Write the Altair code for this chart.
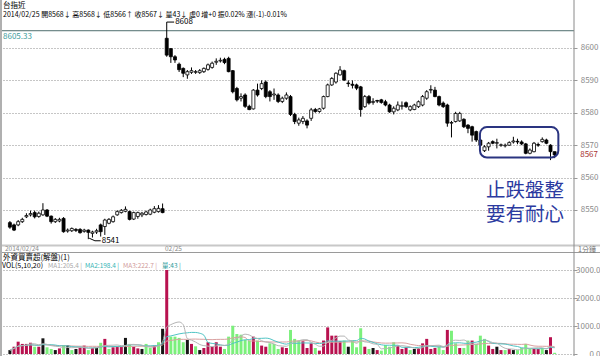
import altair as alt
import pandas as pd

# ---------------- data ----------------
opens = [8546.1, 8545.4, 8545.4, 8546.4, 8547.9, 8548.5, 8549.2, 8548.0, 8548.5, 8550.0,
         8548.1, 8546.4, 8546.6, 8547.4, 8543.5, 8543.6, 8544.0, 8544.0, 8543.4, 8543.8,
         8542.8, 8543.2, 8545.4, 8544.9, 8545.9, 8546.4, 8548.5, 8549.2, 8549.6, 8549.5,
         8547.2, 8548.0, 8548.5, 8548.6, 8548.7, 8549.3, 8549.5, 8550.4,
         8603.0, 8599.8, 8597.3, 8595.0, 8593.7, 8591.7, 8592.5, 8592.5, 8592.4, 8592.7,
         8593.4, 8594.0, 8595.6, 8596.0, 8596.5, 8596.8, 8593.0, 8587.5, 8584.5, 8585.5,
         8582.0, 8581.2, 8587.0, 8587.5, 8589.5, 8586.5, 8585.5, 8585.5, 8583.5, 8584.5,
         8585.0, 8579.5, 8576.8, 8577.3, 8577.5, 8578.3, 8581.0, 8580.4, 8581.4, 8585.0,
         8588.6, 8589.5, 8591.7, 8593.0, 8589.2, 8588.8, 8588.6, 8588.0, 8581.9, 8585.0,
         8583.2, 8583.8, 8584.0, 8583.4, 8582.4, 8580.3, 8580.9, 8582.0, 8583.1, 8580.9,
         8581.0, 8581.9, 8582.4, 8584.5, 8587.0, 8587.0, 8585.0, 8583.0, 8582.4, 8576.8,
         8577.3, 8577.5, 8578.0, 8576.2, 8575.7, 8574.2, 8571.6, 8568.3, 8569.5, 8571.1,
         8570.6, 8570.0, 8569.8, 8570.0, 8571.0, 8571.2, 8571.0, 8570.4, 8567.5, 8568.0,
         8570.2, 8571.1, 8571.6, 8570.0, 8568.0]
highs = [8546.6, 8545.8, 8546.9, 8547.6, 8549.0, 8549.8, 8549.8, 8549.5, 8552.1, 8550.3,
         8548.3, 8547.5, 8547.6, 8547.8, 8544.3, 8544.6, 8544.4, 8544.4, 8544.2, 8544.0,
         8543.6, 8544.2, 8545.8, 8547.3, 8547.5, 8548.3, 8549.9, 8550.3, 8551.1, 8549.8,
         8549.5, 8549.5, 8549.4, 8549.8, 8550.4, 8551.2, 8551.5, 8552.0,
         8608.0, 8600.0, 8597.8, 8595.5, 8594.0, 8593.2, 8594.0, 8593.2, 8593.5, 8594.0,
         8595.2, 8595.8, 8596.8, 8597.0, 8597.0, 8597.3, 8593.2, 8588.0, 8586.0, 8586.0,
         8582.5, 8587.3, 8589.0, 8590.0, 8590.0, 8587.0, 8587.5, 8586.0, 8585.0, 8586.3,
         8585.5, 8580.0, 8578.5, 8579.0, 8578.0, 8581.5, 8581.5, 8581.5, 8585.3, 8589.0,
         8591.0, 8592.5, 8594.4, 8593.3, 8590.0, 8590.0, 8589.0, 8588.3, 8585.5, 8585.5,
         8584.5, 8584.0, 8584.3, 8584.0, 8582.8, 8582.0, 8583.5, 8583.5, 8583.5, 8582.3,
         8582.8, 8583.8, 8585.5, 8587.0, 8588.5, 8588.0, 8585.3, 8583.5, 8582.8, 8577.5,
         8580.3, 8580.3, 8578.3, 8576.5, 8576.0, 8574.5, 8572.0, 8570.0, 8571.0, 8571.5,
         8572.0, 8570.5, 8570.5, 8571.2, 8572.6, 8572.0, 8571.5, 8570.7, 8569.0, 8571.0,
         8570.8, 8572.4, 8572.0, 8570.3, 8568.0]
lows = [8544.2, 8543.5, 8545.0, 8546.0, 8547.5, 8548.0, 8547.4, 8547.6, 8548.2, 8547.8,
        8545.8, 8546.0, 8546.2, 8543.0, 8543.0, 8543.2, 8543.2, 8542.7, 8543.0, 8541.0,
        8541.5, 8542.6, 8541.8, 8542.3, 8545.6, 8546.1, 8548.2, 8548.9, 8549.3, 8546.8,
        8546.9, 8547.3, 8547.8, 8548.3, 8548.4, 8549.0, 8549.2, 8549.0,
        8597.3, 8595.4, 8595.4, 8592.6, 8591.0, 8590.5, 8592.0, 8592.0, 8592.0, 8592.3,
        8593.0, 8593.6, 8594.8, 8595.5, 8595.0, 8592.5, 8586.0, 8583.5, 8583.5, 8581.5,
        8580.8, 8581.0, 8585.0, 8587.0, 8584.5, 8583.5, 8584.0, 8583.0, 8583.0, 8584.0,
        8579.0, 8576.5, 8576.0, 8576.5, 8575.2, 8577.5, 8580.0, 8580.0, 8581.0, 8584.8,
        8588.3, 8589.0, 8591.5, 8589.8, 8588.0, 8587.5, 8587.0, 8578.8, 8581.5, 8582.5,
        8582.5, 8583.0, 8582.8, 8582.0, 8580.0, 8579.5, 8580.5, 8581.0, 8581.5, 8580.5,
        8580.8, 8581.5, 8582.0, 8584.0, 8586.0, 8584.8, 8582.0, 8581.5, 8575.7, 8572.4,
        8577.0, 8577.2, 8575.3, 8573.7, 8571.1, 8571.0, 8569.5, 8567.9, 8568.3, 8570.3,
        8569.0, 8569.5, 8569.3, 8569.8, 8570.5, 8570.3, 8570.0, 8567.2, 8567.2, 8567.8,
        8569.5, 8570.8, 8570.3, 8565.4, 8566.0]
closes = [8544.7, 8543.8, 8546.4, 8547.1, 8548.3, 8548.9, 8547.9, 8549.0, 8550.0, 8548.1,
          8546.4, 8547.1, 8547.1, 8543.3, 8543.8, 8544.3, 8543.7, 8543.0, 8543.8, 8543.1,
          8543.2, 8543.6, 8543.3, 8546.9, 8547.1, 8547.9, 8549.5, 8549.9, 8550.2, 8547.1,
          8549.2, 8549.2, 8549.0, 8549.4, 8550.0, 8550.4, 8550.5, 8549.2,
          8597.8, 8597.3, 8596.3, 8593.3, 8592.2, 8592.7, 8593.0, 8592.7, 8593.0, 8593.7,
          8594.8, 8595.3, 8595.9, 8596.2, 8595.5, 8592.7, 8586.5, 8584.0, 8585.0, 8582.0,
          8581.0, 8587.0, 8585.5, 8589.0, 8585.0, 8585.0, 8585.8, 8583.5, 8584.5, 8585.5,
          8579.5, 8577.3, 8577.8, 8578.3, 8576.2, 8580.9, 8580.4, 8581.2, 8585.0, 8588.6,
          8590.6, 8592.2, 8593.2, 8590.1, 8589.0, 8588.5, 8587.6, 8581.0, 8585.0, 8583.0,
          8583.5, 8583.6, 8583.2, 8582.4, 8580.3, 8581.4, 8582.4, 8582.2, 8581.9, 8581.9,
          8582.4, 8583.4, 8585.0, 8586.5, 8587.2, 8585.0, 8582.4, 8581.9, 8576.8, 8577.0,
          8579.8, 8579.8, 8575.7, 8575.2, 8573.1, 8571.6, 8570.0, 8569.5, 8570.6, 8570.6,
          8570.8, 8570.1, 8570.0, 8570.8, 8571.3, 8571.0, 8570.4, 8567.5, 8568.5, 8570.6,
          8570.0, 8571.8, 8570.6, 8568.0, 8567.0]
volumes = [140, 260, 440, 360, 360, 400, 260, 260, 560, 240,
           180, 140, 200, 320, 320, 140, 180, 240, 300, 140,
           215, 215, 400, 540, 180, 240, 260, 260, 575, 360,
           260, 200, 180, 360, 215, 300, 420, 900, 3000, 620,
           620, 575, 420, 500, 360, 275, 140, 215, 420, 260,
           420, 260, 180, 620, 1010, 715, 690, 500, 480, 620,
           480, 300, 260, 380, 360, 180, 240, 215, 860, 540,
           480, 455, 215, 380, 215, 120, 480, 950, 655, 655,
           455, 480, 260, 480, 240, 920, 260, 180, 215, 140,
           120, 320, 260, 420, 300, 180, 240, 140, 180, 215,
           380, 540, 180, 215, 260, 140, 860, 830, 380, 215,
           215, 480, 480, 360, 655, 540, 300, 180, 260, 140,
           140, 180, 140, 140, 215, 360, 180, 180, 180, 215,
           140, 600, 43]
vol_side = list("krrrrrgrkggkrgkgkrrgrkgrgrrrkgrrkggrgkrggggkrgkrrrrrgggggggrgrrgggrrggg"
                "rrrgrrrrrrgkgggrgkrggggrrrgkrrrrrggrggrggrgggrrkrgrkggggrrgkrgg")
price_ticks = [8550, 8560, 8570, 8580, 8590, 8600]
vol_ticks = [0, 1000, 2000, 3000]
top_level = [8605.33]
last_close = [8567]
high_mark = {"i": [38], "i2": [39.8], "p": [8608]}
low_mark = {"i": [19.2, 20.6, 22.0], "p": [8541.3, 8540.5, 8540.5]}
box = {"i0": [113.9], "i1": [132.9], "p0": [8575.6], "p1": [8566.2]}
note_lines = ["止跌盤整", "要有耐心"]

FONT = "Noto Sans CJK TC"
n = len(opens)
df = pd.DataFrame({"i": list(range(n)), "o": opens, "h": highs, "l": lows,
                   "c": closes, "v": volumes, "side": vol_side[:n]})
df["dir"] = ["up" if c >= o else "down" for o, c in zip(opens, closes)]

W, H = 574, 356
xs = alt.Scale(domain=[-1.19, 135.48], nice=False, zero=False)
ps = alt.Scale(domain=[8540.43, 8608.64], range=[241, 20], nice=False, zero=False)
vs = alt.Scale(domain=[0, 3000], range=[354, 270], nice=False, zero=False)
X = alt.X("i:Q", scale=xs, axis=None)

pax = alt.Axis(orient="right", values=price_ticks, format="d", grid=True, gridDash=[1, 2],
               gridColor="#8c8c8c", domain=False, ticks=True, tickSize=3, tickColor="#999",
               labelColor="#8a8a8a", labelFont=FONT, labelFontSize=8, labelAlign="right",
               labelPadding=21, labelBaseline="middle", title=None)
vax = alt.Axis(orient="right", values=vol_ticks, format=".1f", grid=True, gridDash=[1, 2],
               gridColor="#8c8c8c", domain=False, ticks=True, tickSize=3, tickColor="#999",
               labelColor="#8a8a8a", labelFont=FONT, labelFontSize=8, labelAlign="right",
               labelPadding=23, labelBaseline="middle", title=None)

base = alt.Chart(df)

# ---------------- price panel ----------------
wick = base.mark_rule(color="black", strokeWidth=1).encode(
    x=X, y=alt.Y("l:Q", scale=ps, axis=pax), y2="h:Q")
body = base.mark_bar(size=3, stroke="black", strokeWidth=0.8).encode(
    x=X, y=alt.Y("o:Q", scale=ps, axis=pax), y2="c:Q",
    fill=alt.Fill("dir:N", scale=alt.Scale(domain=["up", "down"], range=["white", "black"]), legend=None))
topline = alt.Chart(pd.DataFrame({"p": top_level})).mark_rule(color="#4f6e6e", strokeWidth=1).encode(
    y=alt.Y("p:Q", scale=ps, axis=pax))
toplabel = alt.Chart(pd.DataFrame({"p": top_level})).mark_text(
    align="left", baseline="top", dy=2, font=FONT, fontSize=8, color="#3c9c9c").encode(
    x=alt.value(3), y=alt.Y("p:Q", scale=ps, axis=pax), text=alt.Text("p:Q", format=".2f"))
lastlabel = alt.Chart(pd.DataFrame({"p": last_close})).mark_text(
    align="right", baseline="middle", font=FONT, fontSize=8, color="#a83232").encode(
    x=alt.value(598), y=alt.Y("p:Q", scale=ps, axis=pax), text=alt.Text("p:Q", format="d"))
hm = alt.Chart(pd.DataFrame(high_mark))
hi_lead = hm.mark_rule(color="black", strokeWidth=1).encode(
    x=X, x2="i2:Q", y=alt.Y("p:Q", scale=ps, axis=pax))
hi_text = hm.mark_text(align="left", baseline="middle", dx=1, font=FONT, fontSize=8, color="black").encode(
    x=alt.X("i2:Q", scale=xs, axis=None), y=alt.Y("p:Q", scale=ps, axis=pax), text=alt.Text("p:Q", format="d"))
lm = pd.DataFrame(low_mark)
lo_lead = alt.Chart(lm).mark_line(color="black", strokeWidth=1).encode(
    x=X, y=alt.Y("p:Q", scale=ps, axis=pax))
lo_text = alt.Chart(lm.tail(1)).mark_text(align="left", baseline="middle", dx=1, font=FONT,
                                          fontSize=8, color="black").encode(
    x=X, y=alt.Y("p:Q", scale=ps, axis=pax), text=alt.value("8541"))
boxmark = alt.Chart(pd.DataFrame(box)).mark_rect(
    fill=None, stroke="#2a3480", strokeWidth=2, cornerRadius=7).encode(
    x=alt.X("i0:Q", scale=xs, axis=None), x2="i1:Q", y=alt.Y("p0:Q", scale=ps, axis=pax), y2="p1:Q")

price = alt.layer(topline, wick, body, toplabel, lastlabel, hi_lead, hi_text, lo_lead, lo_text, boxmark)

# ---------------- volume panel ----------------
vbars = base.mark_bar(size=3).encode(
    x=X, y=alt.Y("v:Q", scale=vs, axis=vax),
    color=alt.Color("side:N", scale=alt.Scale(domain=["r", "g", "k"],
                                              range=["#b8114f", "#7cf07c", "#151515"]), legend=None))


def ma_line(k, color):
    return base.transform_window(m="mean(v)", frame=[-(k - 1), 0], sort=[alt.SortField("i")]).mark_line(
        color=color, strokeWidth=1, interpolate="monotone").encode(
        x=X, y=alt.Y("m:Q", scale=vs, axis=vax))


volume = alt.layer(vbars, ma_line(20, "#d9a0a0"), ma_line(10, "#4fc4c4"), ma_line(5, "#b5b5b5"))


# ---------------- frame and texts ----------------
def txt(s, x, y, color="black", size=9, align="left", weight="normal"):
    return alt.Chart(pd.DataFrame({"t": [s]})).mark_text(
        align=align, baseline="middle", font=FONT, fontSize=size, color=color, fontWeight=weight).encode(
        x=alt.value(x), y=alt.value(y), text="t:N")


def hline(y, color, w=1, x0=0, x1=600):
    return alt.Chart(pd.DataFrame({"a": [0]})).mark_rule(color=color, strokeWidth=w).encode(
        x=alt.value(x0), x2=alt.value(x1), y=alt.value(y))


def vline(x, color, w=1, y0=0, y1=356):
    return alt.Chart(pd.DataFrame({"a": [0]})).mark_rule(color=color, strokeWidth=w).encode(
        x=alt.value(x), y=alt.value(y0), y2=alt.value(y1))


frame = [
    hline(245.5, "#c8c8c8", 2),
    hline(252.5, "#9a9a9a", 1),
    vline(574, "#8a8a8a", 1),
    vline(1, "#b0b0b0", 2),
]
texts = [
    txt("台指近", 3, 6, size=7.5),
    txt("2014/02/25 開8568↓ 高8568↓ 低8566↑ 收8567↓ 量43↓ 虛0 增+0 振0.02% 漲(-1)-0.01%", 3, 14.5, size=7),
    txt("2014/02/24", 5, 248.7, color="#8a8a8a", size=6.5),
    txt("02/25", 165, 248.7, color="#8a8a8a", size=6.5),
    txt("1分鐘", 578, 250, color="#777777", size=7),
    txt("外資買賣超(解盤)(1)", 3, 257.5, size=7.5),
    txt("VOL(5,10,20)", 2, 265.5, size=7),
    txt("MA1:205.4 |", 48, 265.5, color="#a8a8a8", size=6.5),
    txt("MA2:198.4 |", 85, 265.5, color="#34b4b4", size=6.5),
    txt("MA3:222.7 |", 123, 265.5, color="#d09a9a", size=6.5),
    txt("量:43 |", 162, 265.5, color="#2a9a9a", size=6.5),
    txt(note_lines[0], 525, 190.5, color="#2b3aa0", size=19.5, align="center"),
    txt(note_lines[1], 525, 214.5, color="#2b3aa0", size=19.5, align="center"),
]

chart = alt.layer(price, volume, *frame, *texts).resolve_scale(
    y="independent", color="independent", fill="independent").properties(
    width=W, height=H,
    padding={"left": 0, "top": 0, "right": 26, "bottom": 0},
    autosize=alt.AutoSizeParams(type="none"),
    background="white",
).configure_view(stroke=None)

chart.save("out.html", embed_options={"renderer": "svg", "actions": False})
